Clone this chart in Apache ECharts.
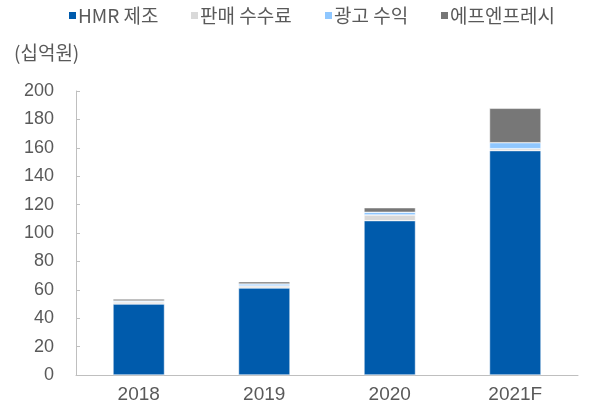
<!DOCTYPE html>
<html><head><meta charset="utf-8">
<script src="https://cdn.jsdelivr.net/npm/echarts@6/dist/echarts.min.js"></script>
<style>html,body{margin:0;padding:0;background:#fff}#c{width:595px;height:407px}</style>
</head><body><div id="c"></div>
<script>
const categories = ['2018','2019','2020','2021F'];
const hmr = [50, 61.3, 108.7, 158];
const fee = [1.4, 1.4, 4, 1.4];
const ad = [0.7, 1.4, 1.9, 4.2];
const fnfresh = [1.4, 1.6, 3.2, 24.2];
const seriesNames = ['HMR 제조','판매 수수료','광고 수익','에프엔프레시'];
const colors = ['#005BAC','#D9D9D9','#8FC7FF','#777777'];
const yTicks = {min:0, max:200, interval:20};
const font = 'Liberation Sans, sans-serif';
const krFont = '"Noto Sans CJK KR", sans-serif';
const legendLefts = [67, 189, 323, 439];
const chart = echarts.init(document.getElementById('c'));
const data = [hmr, fee, ad, fnfresh];
chart.setOption({
  animation:false,
  color: colors,
  grid:{left:76, right:17, top:91, bottom:32},
  legend: seriesNames.map((n,i)=>({
    left:legendLefts[i], top:6, padding:0, itemWidth:9, itemHeight:9, icon:'rect',
    textStyle:{fontSize:19, color:'#595959', fontFamily:krFont, padding:[0,0,0,-4]},
    data:[n]
  })),
  graphic:[{type:'text', left:14, top:43, style:{text:'(십억원)', fontSize:19, fill:'#595959', fontFamily:krFont}}],
  xAxis:{type:'category', data:categories,
    axisLine:{lineStyle:{color:'#BFBFBF'}}, axisTick:{show:false},
    axisLabel:{fontSize:19, color:'#595959', fontFamily:font, margin:10}},
  yAxis:{type:'value', min:yTicks.min, max:yTicks.max, interval:yTicks.interval,
    splitLine:{show:false},
    axisLine:{show:true, lineStyle:{color:'#BFBFBF'}},
    axisTick:{show:true, inside:true, length:4, lineStyle:{color:'#BFBFBF'}},
    axisLabel:{fontSize:18, color:'#595959', fontFamily:font, margin:22}},
  series: seriesNames.map((n,i)=>({
    name:n, type:'bar', stack:'a', data:data[i], barWidth:'41%',
    itemStyle:{color:colors[i], borderColor:'#fff', borderWidth:0.5}
  }))
});
</script></body></html>
